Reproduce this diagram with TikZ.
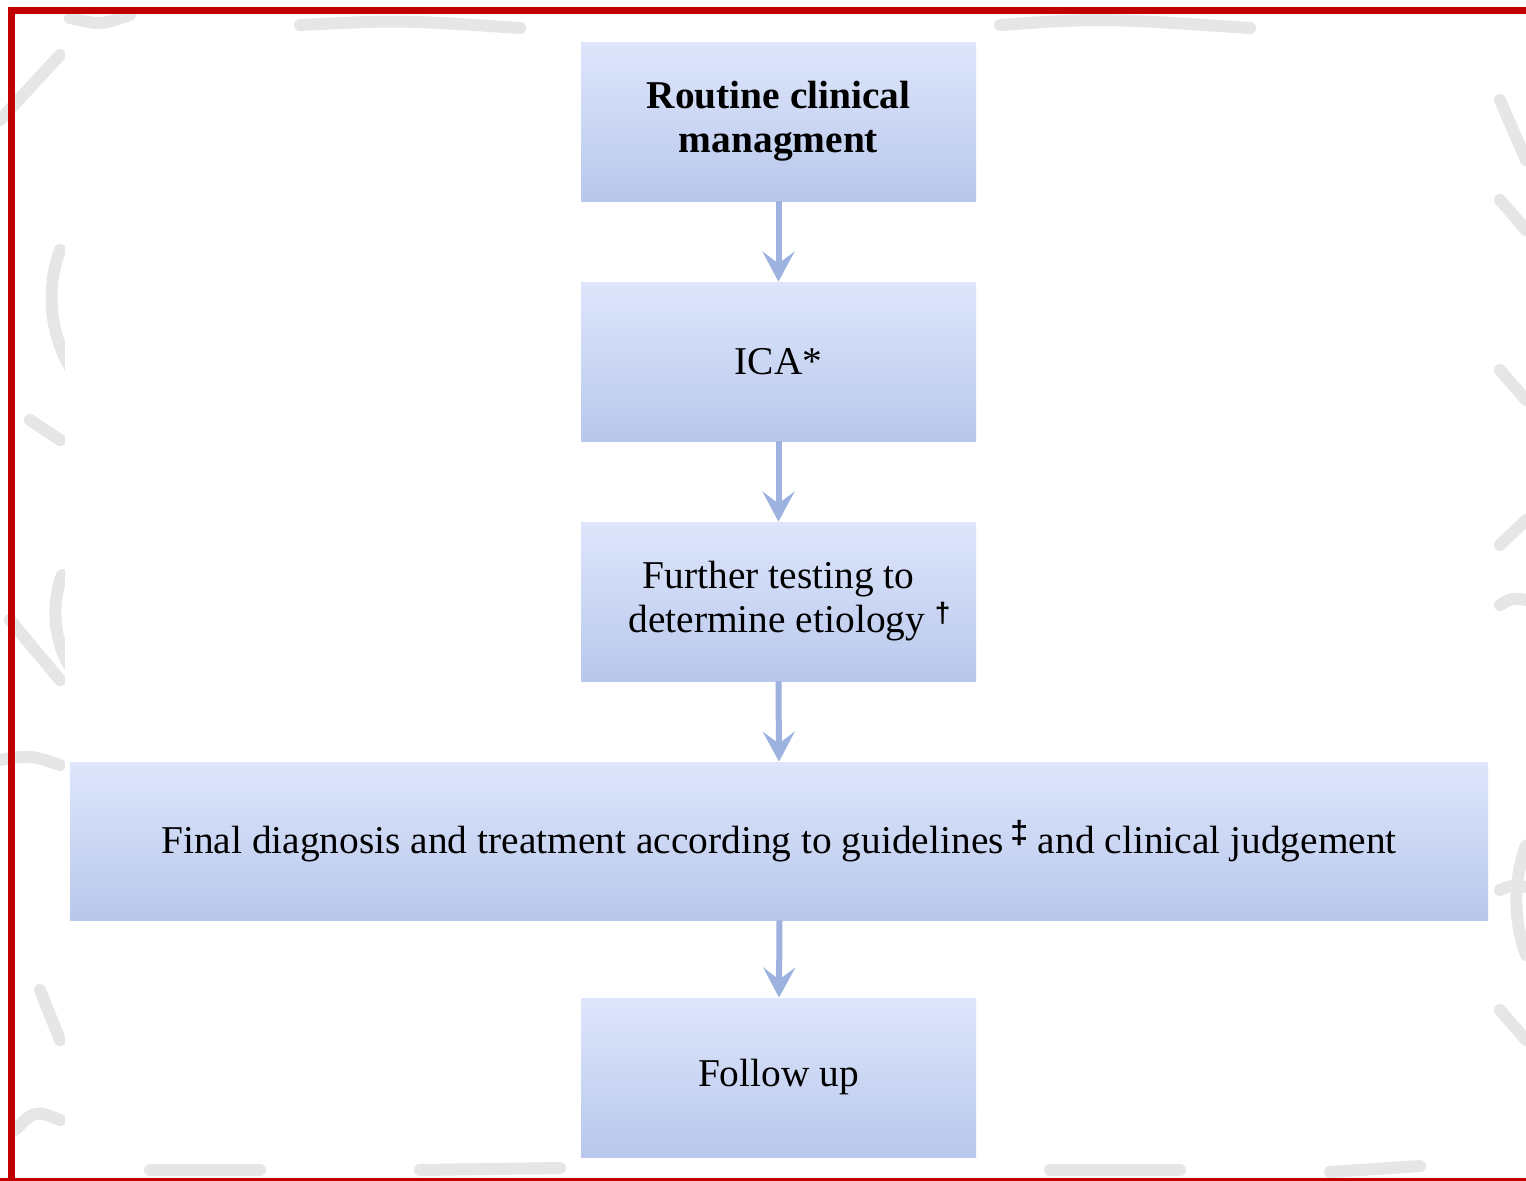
\documentclass[tikz,border=0pt]{standalone}
\usepackage{fontspec}
\setmainfont{Liberation Serif}
\setsansfont{Liberation Sans}
\usetikzlibrary{arrows.meta}

\definecolor{framered}{HTML}{C00000}
\definecolor{boxtop}{HTML}{DEE6FC}
\definecolor{boxbot}{HTML}{B8C7EB}
\definecolor{arrowblue}{HTML}{9DB2DE}
\definecolor{mark}{HTML}{E6E6E6}

\tikzset{
  stepbox/.style={rectangle, draw=none, top color=boxtop, bottom color=boxbot,
    inner sep=0pt, align=center, text=black,
    font=\fontsize{19.7}{22}\selectfont},
  smallbox/.style={stepbox, minimum width=197.5pt, minimum height=79.5pt},
  widebox/.style={stepbox, minimum width=709pt, minimum height=79pt},
  flow/.style={draw=arrowblue, line width=3pt,
    -{Stealth[length=15pt, width=16pt, inset=6pt]}},
  wmark/.style={draw=mark, line width=6pt, line cap=round},
}
% raised footnote-style mark
\newcommand{\notemark}[2]{\raisebox{5pt}{\sffamily\bfseries\fontsize{#1}{#1}\selectfont #2}}

\begin{document}
\begin{tikzpicture}[x=0.5pt, y=-0.5pt]
  \useasboundingbox (0,0) rectangle (1526,1180);
  \clip (0,0) rectangle (1526,1180);
  \fill[white] (0,0) rectangle (1526,1180);

  % faint background emblem strokes in the margins
  \draw[wmark] (60,250) arc[start angle=200, end angle=150, radius=140];
  \draw[wmark] (0,120) -- (60,55);
  \draw[wmark] (70,18) .. controls (100,25) .. (130,15);
  \draw[wmark] (30,420) -- (60,440);
  \draw[wmark] (62,575) arc[start angle=200, end angle=150, radius=110];
  \draw[wmark] (10,620) -- (60,680);
  \draw[wmark] (0,760) .. controls (30,755) .. (60,765);
  \draw[wmark] (40,990) -- (60,1040);
  \draw[wmark] (15,1130) .. controls (35,1110) .. (60,1120);
  \draw[wmark] (1500,100) -- (1526,160);
  \draw[wmark] (1500,200) -- (1526,230);
  \draw[wmark] (1500,370) -- (1526,400);
  \draw[wmark] (1500,545) -- (1526,520);
  \draw[wmark] (1500,605) .. controls (1512,598) .. (1526,600);
  \draw[wmark] (1500,890) .. controls (1512,885) .. (1526,887);
  \draw[wmark] (1526,955) arc[start angle=160, end angle=200, radius=160];
  \draw[wmark] (1500,1010) -- (1526,1040);
  \draw[wmark] (300,25) .. controls (400,20) .. (520,28);
  \draw[wmark] (1000,25) .. controls (1100,18) .. (1250,28);
  \draw[wmark] (150,1170) -- (260,1170);
  \draw[wmark] (420,1170) -- (560,1168);
  \draw[wmark] (1050,1170) -- (1180,1170);
  \draw[wmark] (1330,1172) -- (1420,1166);

  % white panel carrying the chart
  \fill[white] (65,35) rectangle (1493,1160);

  % red frame
  \draw[framered, line width=3.75pt] (11.5,1200) -- (11.5,10.5) -- (1540,10.5);
  \draw[framered, line width=3.5pt] (0,1181.5) -- (1540,1181.5);

  % steps of the chart
  \node[smallbox] (routine) at (778.5,121.5)
    {\bfseries Routine clinical\\\bfseries managment};
  \node[smallbox] (ica) at (778.5,361.5) {ICA*};
  \node[smallbox] (further) at (778.5,601.5)
    {Further testing to\\\hspace*{11pt}determine etiology \notemark{14}{†}};
  \node[widebox] (final) at (779,841)
    {Final diagnosis and treatment according to guidelines\,\notemark{16}{‡} and clinical judgement};
  \node[smallbox] (follow) at (778.5,1077.5) {Follow up};

  % connectors
  \draw[flow] (routine.south) -- (ica.north);
  \draw[flow] (ica.south) -- (further.north);
  \draw[flow] (further.south) -- (final.north);
  \draw[flow] ([xshift=0.25pt]final.south) -- ([xshift=0.25pt]follow.north);
\end{tikzpicture}
\end{document}
